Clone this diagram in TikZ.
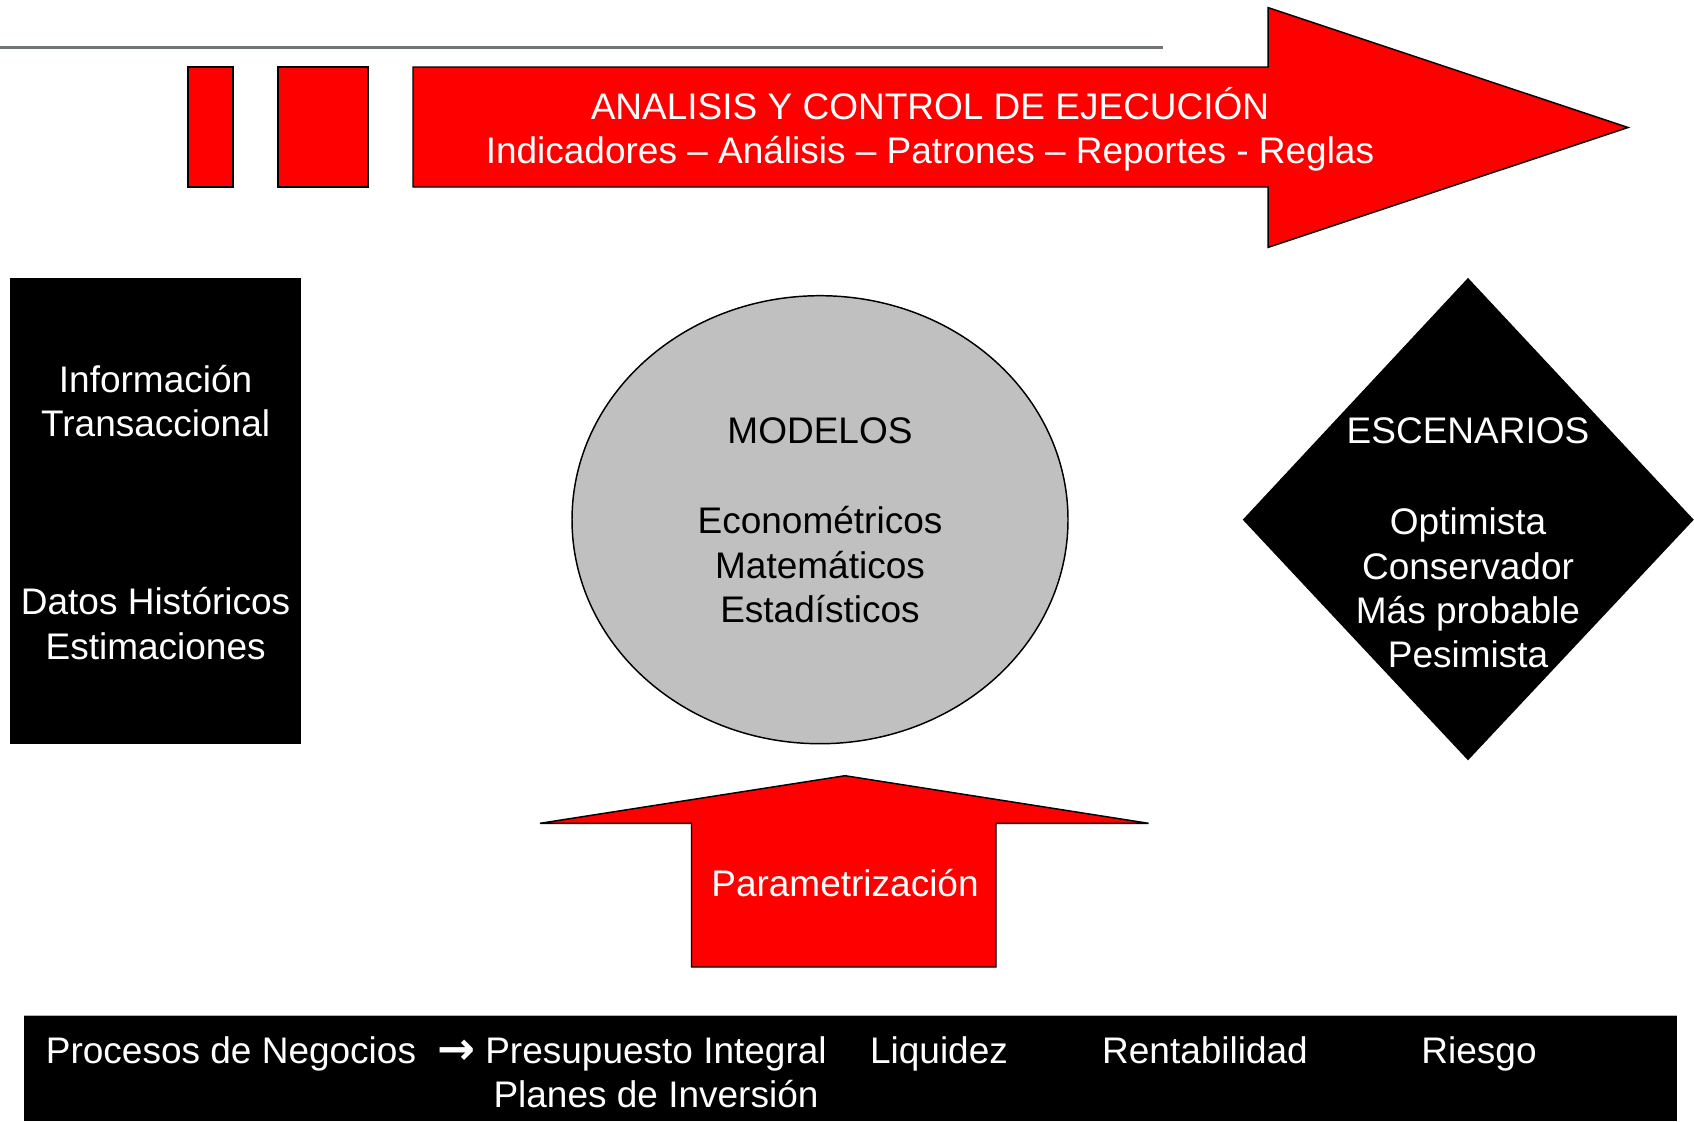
\documentclass[tikz,border=0pt]{standalone}
\usepackage{fontspec}
\setmainfont{Liberation Sans}
\newfontfamily\arrowfont{DejaVu Sans}
\definecolor{pptred}{RGB}{255,0,0}
\definecolor{pptgray}{RGB}{192,192,192}
\definecolor{linegray}{RGB}{112,117,117}
\begin{document}
\begin{tikzpicture}[x=0.75pt,y=-0.75pt,
  txt/.style={font=\fontsize{27.75}{33.2}\selectfont, align=center, inner sep=0pt, anchor=base},
  wtxt/.style={txt, text=white},
  btxt/.style={txt, text=black},
  redshape/.style={fill=pptred, draw=black, line width=1.1pt, line join=miter},
  blackshape/.style={fill=black, draw=black, line width=0.8pt}]
\useasboundingbox[fill=white] (0,0) rectangle (1694,1121);

% top gray rule
\coordinate (ruleL) at (0,47.5);
\coordinate (ruleR) at (1163,47.5);
\draw[linegray, line width=2.4pt] (ruleL) -- (ruleR);

% top arrow group
\draw[redshape] (188,67) rectangle (233,187);
\draw[redshape] (278,67) rectangle (368,187);
\draw[redshape] (413,67) -- (1268,67) -- (1268,7.6) -- (1628,127.5) -- (1268,247.4) -- (1268,187) -- (413,187) -- cycle;
\node[wtxt] (analisis) at (930,119) {ANALISIS Y CONTROL DE EJECUCIÓN};
\node[wtxt] (indic) at (930,163) {Indicadores – Análisis – Patrones – Reportes - Reglas};

% left black box
\draw[blackshape] (10.8,278.7) rectangle (300.3,743.3);
\node[wtxt] (info) at (155.6,436.5) {Información\\Transaccional};
\node[wtxt] (datos) at (155.6,659) {Datos Históricos\\Estimaciones};

% ellipse
\draw[fill=pptgray, draw=black, line width=1.1pt] (820,519.7) ellipse [x radius=248, y radius=224];
\node[btxt] (modelos) at (820,443) {MODELOS};
\node[btxt] (econ) at (820,622.4) {Econométricos\\Matemáticos\\Estadísticos};

% diamond
\draw[blackshape] (1468,278.7) -- (1693,519.7) -- (1468,759.5) -- (1243.5,519.7) -- cycle;
\node[wtxt] (escen) at (1468,443) {ESCENARIOS};
\node[wtxt] (optim) at (1468,667.7) {Optimista\\Conservador\\Más probable\\Pesimista};

% parametrizacion arrow
\draw[redshape] (540,823.3) -- (845,775.7) -- (1148.5,823.3) -- (996,823.3) -- (996,967) -- (691.5,967) -- (691.5,823.3) -- cycle;
\node[wtxt] (param) at (845,896.8) {Parametrización};

% bottom bar
\fill[black] (23.8,1015.6) rectangle (1676.8,1121);
\draw[gray!60, line width=0.8pt] (23.8,1015.6) -- (1676.8,1015.6);
\node[wtxt] (procesos) at (231,1063) {Procesos de Negocios};
\node[wtxt, font=\fontsize{34}{36}\selectfont\arrowfont\bfseries] (flecha) at (456,1064) {→};
\node[wtxt] (presup) at (656,1107.5) {Presupuesto Integral\\Planes de Inversión};
\node[wtxt] (liq) at (939,1063) {Liquidez};
\node[wtxt] (rent) at (1205,1063) {Rentabilidad};
\node[wtxt] (riesgo) at (1479,1063) {Riesgo};
\end{tikzpicture}
\end{document}
